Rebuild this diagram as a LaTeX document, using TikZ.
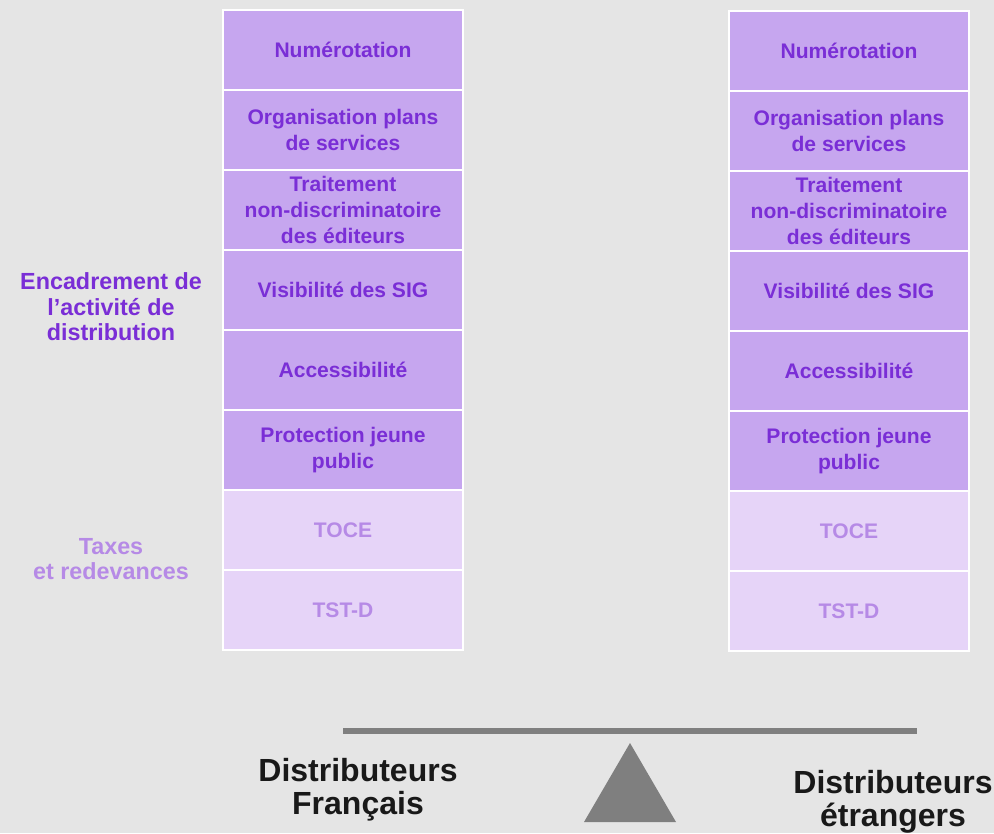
\documentclass[tikz,border=0pt]{standalone}
\usepackage{fontspec}
\setmainfont{Liberation Sans}
\definecolor{bggray}{HTML}{E5E5E5}
\definecolor{cellfill}{HTML}{C6A6EF}
\definecolor{cellpale}{HTML}{E6D4F8}
\definecolor{purpletxt}{HTML}{7A2ED6}
\definecolor{paletxt}{HTML}{B68AE6}
\definecolor{scalegray}{HTML}{7F7F7F}
\tikzset{
  cell/.style={fill=cellfill, text=purpletxt, minimum width=178.5pt, minimum height=58.5pt,
    inner sep=0pt, align=center, font=\bfseries\fontsize{15.8}{19.5}\selectfont},
  palecell/.style={cell, fill=cellpale, text=paletxt},
  sidelabel/.style={align=center, font=\bfseries\fontsize{17.5}{19.1}\selectfont},
  camp/.style={align=center, font=\bfseries\fontsize{24}{24.8}\selectfont, text=black!90}
}
\begin{document}
\begin{tikzpicture}[x=0.75pt,y=-0.75pt]
\useasboundingbox[fill=bggray] (0,0) rectangle (994,833);
% the two columns of rules
\foreach \c/\x/\s in {F/343/0, E/849/1}{
  \fill[white] (\x-121,9+\s) rectangle (\x+121,651+\s);
  \foreach \i/\t in {1/{Numérotation}, 2/{Organisation plans\\de services},
      3/{Traitement\\non-discriminatoire\\des éditeurs}, 4/{Visibilité des SIG},
      5/{Accessibilité}, 6/{Protection jeune\\public}}
    \node[cell] (\c\i) at (\x,{-30+80*\i+\s}) {\t};
  \node[palecell] (\c7) at (\x,530+\s) {TOCE};
  \node[palecell] (\c8) at (\x,610+\s) {TST-D};
}
% labels on the left
\node[sidelabel, text=purpletxt] (cadre) at (111,307) {Encadrement de\\l’activité de\\distribution};
\node[sidelabel, text=paletxt] (taxes) at (111,559) {Taxes\\et redevances};
% the scale
\coordinate (barL) at (343,731);
\coordinate (barR) at (917,731);
\draw[scalegray, line width=4.5pt] (barL) -- (barR);
\coordinate (apex) at (630,743);
\fill[scalegray] (apex) -- (676,822) -- (584,822) -- cycle;
\node[camp] (fr) at (358,790) {Distributeurs\\Français};
\node[camp] (et) at (893,802) {Distributeurs\\étrangers};
\end{tikzpicture}
\end{document}
